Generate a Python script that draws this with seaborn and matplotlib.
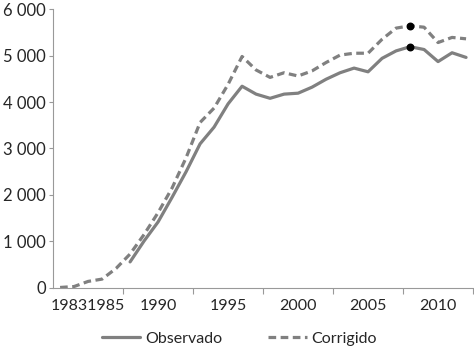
import numpy as np
import pandas as pd
import matplotlib
matplotlib.use("Agg")
import matplotlib.pyplot as plt
import seaborn as sns
from matplotlib.ticker import FixedLocator, FuncFormatter, NullFormatter

# data
years_corr = list(range(1983, 2013))
corrigido = [10, 30, 140, 190, 420, 730, 1150, 1620, 2150, 2800,
             3560, 3870, 4380, 4980, 4690, 4530, 4630, 4560, 4670, 4850,
             5010, 5050, 5050, 5350, 5590, 5640, 5610, 5280, 5390, 5360]

years_obs = list(range(1988, 2013))
observado = [560, 1010, 1420, 1950, 2500, 3100, 3460, 3960, 4340, 4170,
             4080, 4170, 4190, 4320, 4490, 4630, 4730, 4650, 4940, 5100,
             5190, 5130, 4870, 5060, 4960]

peak_year = 2008
label_years = [1985, 1990, 1995, 2000, 2005, 2010]
label_texts = ["19831985", "1990", "1995", "2000", "2005", "2010"]
boundaries = [1987.5, 1992.5, 1997.5, 2002.5, 2007.5, 2012.5]

df = pd.concat([
    pd.DataFrame({"ano": years_obs, "valor": observado, "serie": "Observado"}),
    pd.DataFrame({"ano": years_corr, "valor": corrigido, "serie": "Corrigido"}),
], ignore_index=True)

sns.set_style("white")
plt.rcParams["font.family"] = ["Lato", "DejaVu Sans"]

fig = plt.figure(figsize=(4.74, 3.49), dpi=100)
ax = fig.add_axes([0.112, 0.175, 0.886, 0.799])

line_col = "#808080"
sns.lineplot(
    data=df, x="ano", y="valor", style="serie",
    style_order=["Observado", "Corrigido"],
    dashes={"Observado": "", "Corrigido": (2.4, 1.4)},
    color=line_col, linewidth=2.3, legend=False, ax=ax
)

# black dots on the 2008 peak
peak = df[df["ano"] == peak_year]
ax.scatter(peak["ano"], peak["valor"], color="black", s=22, zorder=5)

ax.set_xlim(1982.5, 2012.5)
ax.set_ylim(0, 6000)
ax.set_xlabel("")
ax.set_ylabel("")

ax.set_yticks(range(0, 6001, 1000))
ax.yaxis.set_major_formatter(FuncFormatter(lambda v, p: f"{v:,.0f}".replace(",", " ")))

ax.xaxis.set_major_locator(FixedLocator(boundaries))
ax.xaxis.set_major_formatter(NullFormatter())
ax.xaxis.set_minor_locator(FixedLocator(label_years))
ax.set_xticklabels(label_texts, minor=True)

ax.tick_params(axis="y", which="major", left=True, length=3, width=0.8,
               color="#999999", pad=2, labelsize=12)
ax.tick_params(axis="x", which="major", bottom=True, length=4, width=0.8,
               color="#999999")
ax.tick_params(axis="x", which="minor", bottom=True, length=0, pad=8,
               labelsize=11.5)

sns.despine(ax=ax)
for s in ["left", "bottom"]:
    ax.spines[s].set_color("#999999")
    ax.spines[s].set_linewidth(0.8)

handles = ax.lines[:2]
fig.legend(handles, ["Observado", "Corrigido"], loc="center",
           bbox_to_anchor=(0.505, 0.03), ncol=2, frameon=False,
           fontsize=11.5, handlelength=2.4, handletextpad=0.3,
           columnspacing=2.9)

fig.savefig("out.png", dpi=100)
